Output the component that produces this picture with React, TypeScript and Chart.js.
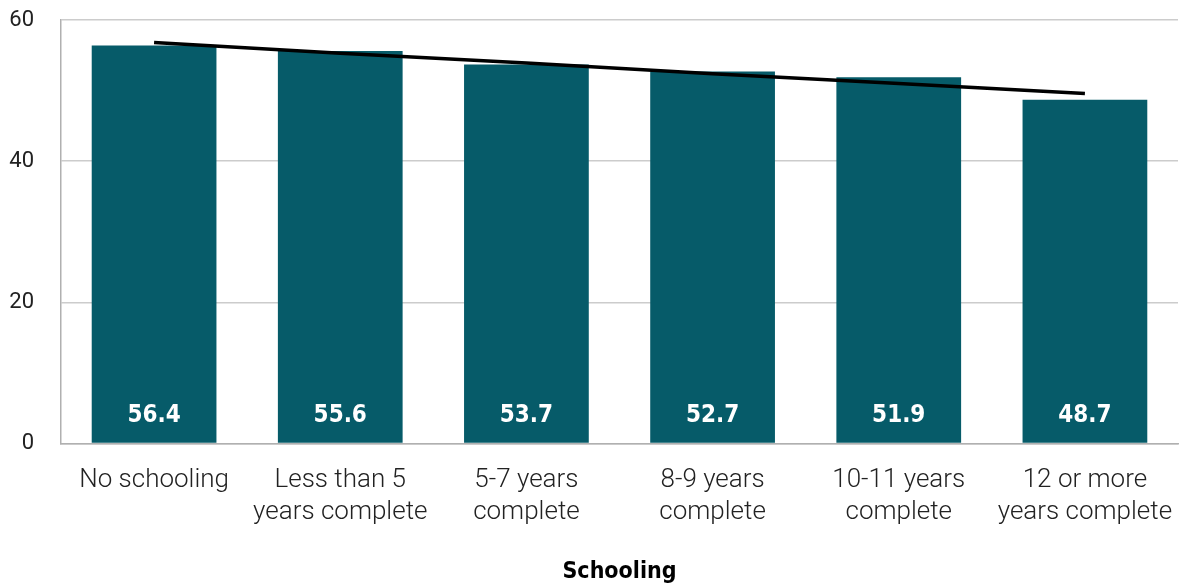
import React, { useEffect, useRef } from "react";
import { Chart, registerables } from "chart.js";

Chart.register(...registerables);

const categories: string[][] = [
  ["No schooling"],
  ["Less than 5", "years complete"],
  ["5-7 years", "complete"],
  ["8-9 years", "complete"],
  ["10-11 years", "complete"],
  ["12 or more", "years complete"],
];
const values: number[] = [56.4, 55.6, 53.7, 52.7, 51.9, 48.7];
const trendValues: number[] = [56.8, 55.3, 53.9, 52.4, 51.0, 49.6];
const yTicks: number[] = [0, 20, 40, 60];
const xTitle = "Schooling";

const BAR_COLOR = "#065B69";

const barLabelPlugin = {
  id: "barLabels",
  afterDatasetsDraw(chart: any) {
    const meta = chart.getDatasetMeta(0);
    const ctx = chart.ctx;
    ctx.save();
    ctx.fillStyle = "#ffffff";
    ctx.font = "bold 24px 'DejaVu Sans Condensed', 'DejaVu Sans', sans-serif";
    ctx.textAlign = "center";
    ctx.textBaseline = "middle";
    meta.data.forEach((el: any, i: number) => {
      const base = el.base;
      ctx.fillText(values[i].toFixed(1), el.x, base - 27);
    });
    ctx.restore();
  },
};

export default function App() {
  const ref = useRef<HTMLCanvasElement | null>(null);
  useEffect(() => {
    if (!ref.current) return;
    const chart = new Chart(ref.current, {
      type: "bar",
      data: {
        labels: categories,
        datasets: [
          {
            type: "bar",
            data: values,
            backgroundColor: BAR_COLOR,
            borderWidth: 0,
            categoryPercentage: 1,
            barPercentage: 0.67,
            order: 2,
          },
          {
            type: "line",
            data: trendValues,
            borderColor: "#000000",
            borderWidth: 3.5,
            pointRadius: 0,
            fill: false,
            tension: 0,
            order: 1,
          } as any,
        ],
      },
      options: {
        animation: false,
        responsive: true,
        maintainAspectRatio: false,
        layout: { padding: { top: 20, right: 6, left: 6, bottom: 2 } },
        plugins: {
          legend: { display: false },
          tooltip: { enabled: false },
        },
        scales: {
          x: {
            grid: { display: false, drawTicks: false },
            border: { color: "#b0b0b0", width: 1.5 },
            afterFit: (scale: any) => {
              scale.paddingLeft = 0;
              scale.paddingRight = 0;
            },
            ticks: {
              color: "#222222",
              font: { family: "Roboto, 'DejaVu Sans', sans-serif", size: 26, weight: 300 as any, lineHeight: 1.23 },
              padding: 21,
              maxRotation: 0,
              autoSkip: false,
            },
            title: {
              display: true,
              text: xTitle,
              color: "#000000",
              font: { family: "'DejaVu Sans Condensed', 'DejaVu Sans', sans-serif", size: 23, weight: "bold" },
              padding: { top: 9, bottom: 0 },
            },
          },
          y: {
            min: 0,
            max: 60,
            afterBuildTicks: (scale: any) => {
              scale.ticks = yTicks.map((v) => ({ value: v }));
            },
            afterFit: (scale: any) => {
              scale.width = 55;
              scale.paddingTop = 0;
              scale.paddingBottom = 0;
            },
            grid: { color: "#cccccc", lineWidth: 1.5, drawTicks: false },
            border: { color: "#b0b0b0", width: 1.5 },
            ticks: {
              color: "#222222",
              font: { family: "Roboto, 'DejaVu Sans', sans-serif", size: 22, weight: 400 as any },
              padding: 27,
            },
          },
        },
      },
      plugins: [barLabelPlugin],
    });
    return () => chart.destroy();
  }, []);
  return (
    <div style={{ position: "fixed", left: 0, top: 0, width: 1184, height: 588, background: "#fff" }}>
      <canvas ref={ref} />
    </div>
  );
}
